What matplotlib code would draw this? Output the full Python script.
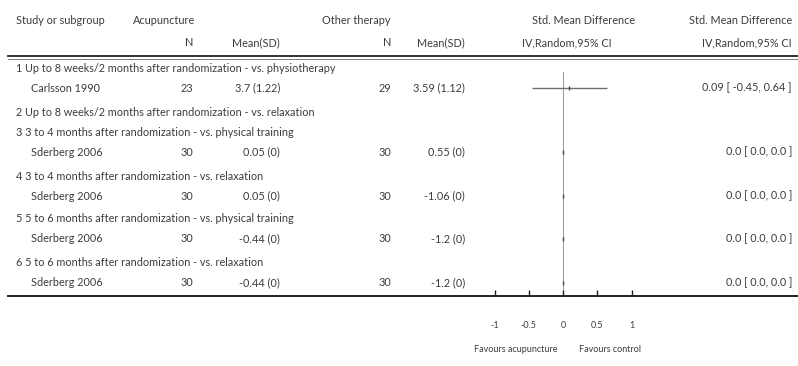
import matplotlib.pyplot as plt

# Subgroups, in the order listed
group_labels = [
    "1 Up to 8 weeks/2 months after randomization - vs. physiotherapy",
    "2 Up to 8 weeks/2 months after randomization - vs. relaxation",
    "3 3 to 4 months after randomization - vs. physical training",
    "4 3 to 4 months after randomization - vs. relaxation",
    "5 5 to 6 months after randomization - vs. physical training",
    "6 5 to 6 months after randomization - vs. relaxation",
]

# One study row per subgroup that has data (subgroup 2 is empty)
study_group = [0, 2, 3, 4, 5]
study_names = ["Carlsson 1990", "Sderberg 2006", "Sderberg 2006",
               "Sderberg 2006", "Sderberg 2006"]
acu_n = [23, 30, 30, 30, 30]
acu_mean = [3.7, 0.05, 0.05, -0.44, -0.44]
acu_sd = [1.22, 0, 0, 0, 0]
oth_n = [29, 30, 30, 30, 30]
oth_mean = [3.59, 0.55, -1.06, -1.2, -1.2]
oth_sd = [1.12, 0, 0, 0, 0]
smd = [0.09, 0.0, 0.0, 0.0, 0.0]
ci_lo = [-0.45, 0.0, 0.0, 0.0, 0.0]
ci_hi = [0.64, 0.0, 0.0, 0.0, 0.0]

xticks = [-1, -0.5, 0, 0.5, 1]
xtick_labels = ["-1", "-0.5", "0", "0.5", "1"]

plt.rcParams['font.family'] = ['Lato', 'DejaVu Sans']
txt = '#3c3c3c'
fs = 7.8

W, H = 798, 366
fig = plt.figure(figsize=(W / 100, H / 100), dpi=100)

# pixel-based canvas for the table part
tab = fig.add_axes([0, 0, 1, 1])
tab.set_xlim(0, W)
tab.set_ylim(H, 0)
tab.axis('off')

# row layout (pixels from top)
group_y = [69, 113, 133, 176, 219, 263]
study_y = [88, 152, 196, 239, 283]
top_line, bottom_line = 56, 296
x_study, x_sub = 16, 31
x_an, x_am, x_on, x_om, x_res = 193, 280, 391, 465, 792


def ci_text(m, lo, hi):
    if m == 0 and lo == 0 and hi == 0:
        return "0.0 [ 0.0, 0.0 ]"
    return f"{m:.2f} [ {lo:.2f}, {hi:.2f} ]"


# header
hdr = dict(fontsize=fs, color=txt, va='center')
tab.text(x_study, 20, "Study or subgroup", ha='left', **hdr)
tab.text(133, 20, "Acupuncture", ha='left', **hdr)
tab.text(x_on, 20, "Other therapy", ha='right', **hdr)
tab.text(532, 20, "Std. Mean Difference", ha='left', **hdr)
tab.text(x_res, 20, "Std. Mean Difference", ha='right', **hdr)
tab.text(x_an, 43, "N", ha='right', **hdr)
tab.text(x_am, 43, "Mean(SD)", ha='right', **hdr)
tab.text(x_on, 43, "N", ha='right', **hdr)
tab.text(x_om, 43, "Mean(SD)", ha='right', **hdr)
tab.text(522, 43, "IV,Random,95% CI", ha='left', **hdr)
tab.text(x_res, 43, "IV,Random,95% CI", ha='right', **hdr)

tab.plot([8, W], [top_line, top_line], color='#222222', lw=1.3)
tab.plot([8, W], [top_line + 3, top_line + 3], color='#666666', lw=0.6)
tab.plot([8, W], [bottom_line, bottom_line], color='#222222', lw=1.4)

for y, lab in zip(group_y, group_labels):
    tab.text(x_study, y, lab, ha='left', **hdr)

for i, y in enumerate(study_y):
    tab.text(x_sub, y, study_names[i], ha='left', **hdr)
    tab.text(x_an, y, str(acu_n[i]), ha='right', **hdr)
    tab.text(x_am, y, f"{acu_mean[i]:g} ({acu_sd[i]:g})", ha='right', **hdr)
    tab.text(x_on, y, str(oth_n[i]), ha='right', **hdr)
    tab.text(x_om, y, f"{oth_mean[i]:g} ({oth_sd[i]:g})", ha='right', **hdr)
    tab.text(x_res, y, ci_text(smd[i], ci_lo[i], ci_hi[i]), ha='right', **hdr)

# forest panel: 0 sits at x=563 px, 68.5 px per unit
x0, scale = 563, 68.5
left_px, right_px = 470, 660
ax = fig.add_axes([left_px / W, 1 - bottom_line / H,
                   (right_px - left_px) / W, (bottom_line - top_line) / H])
ax.set_xlim((left_px - x0) / scale, (right_px - x0) / scale)
ax.set_ylim(bottom_line, top_line)
ax.patch.set_alpha(0)
for s in ax.spines.values():
    s.set_visible(False)

ax.plot([0, 0], [72, bottom_line], color='#a0a0a0', lw=0.8, zorder=1)
ax.hlines(study_y, ci_lo, ci_hi, color='#707070', lw=1.0, zorder=2)
ax.plot(smd, study_y, '|', color='#444444', markersize=2.5, mew=1.0, zorder=3)

ax.set_xticks(xticks)
ax.set_xticklabels(xtick_labels)
ax.set_yticks([])
ax.tick_params(axis='x', direction='in', length=4, width=1.0, color='#222222',
               labelsize=6.5, labelcolor=txt, pad=18)

tab.text(516, 349, "Favours acupuncture", ha='center', va='center',
         fontsize=6.5, color=txt)
tab.text(610, 349, "Favours control", ha='center', va='center',
         fontsize=6.5, color=txt)

fig.savefig('out.png', dpi=100)
